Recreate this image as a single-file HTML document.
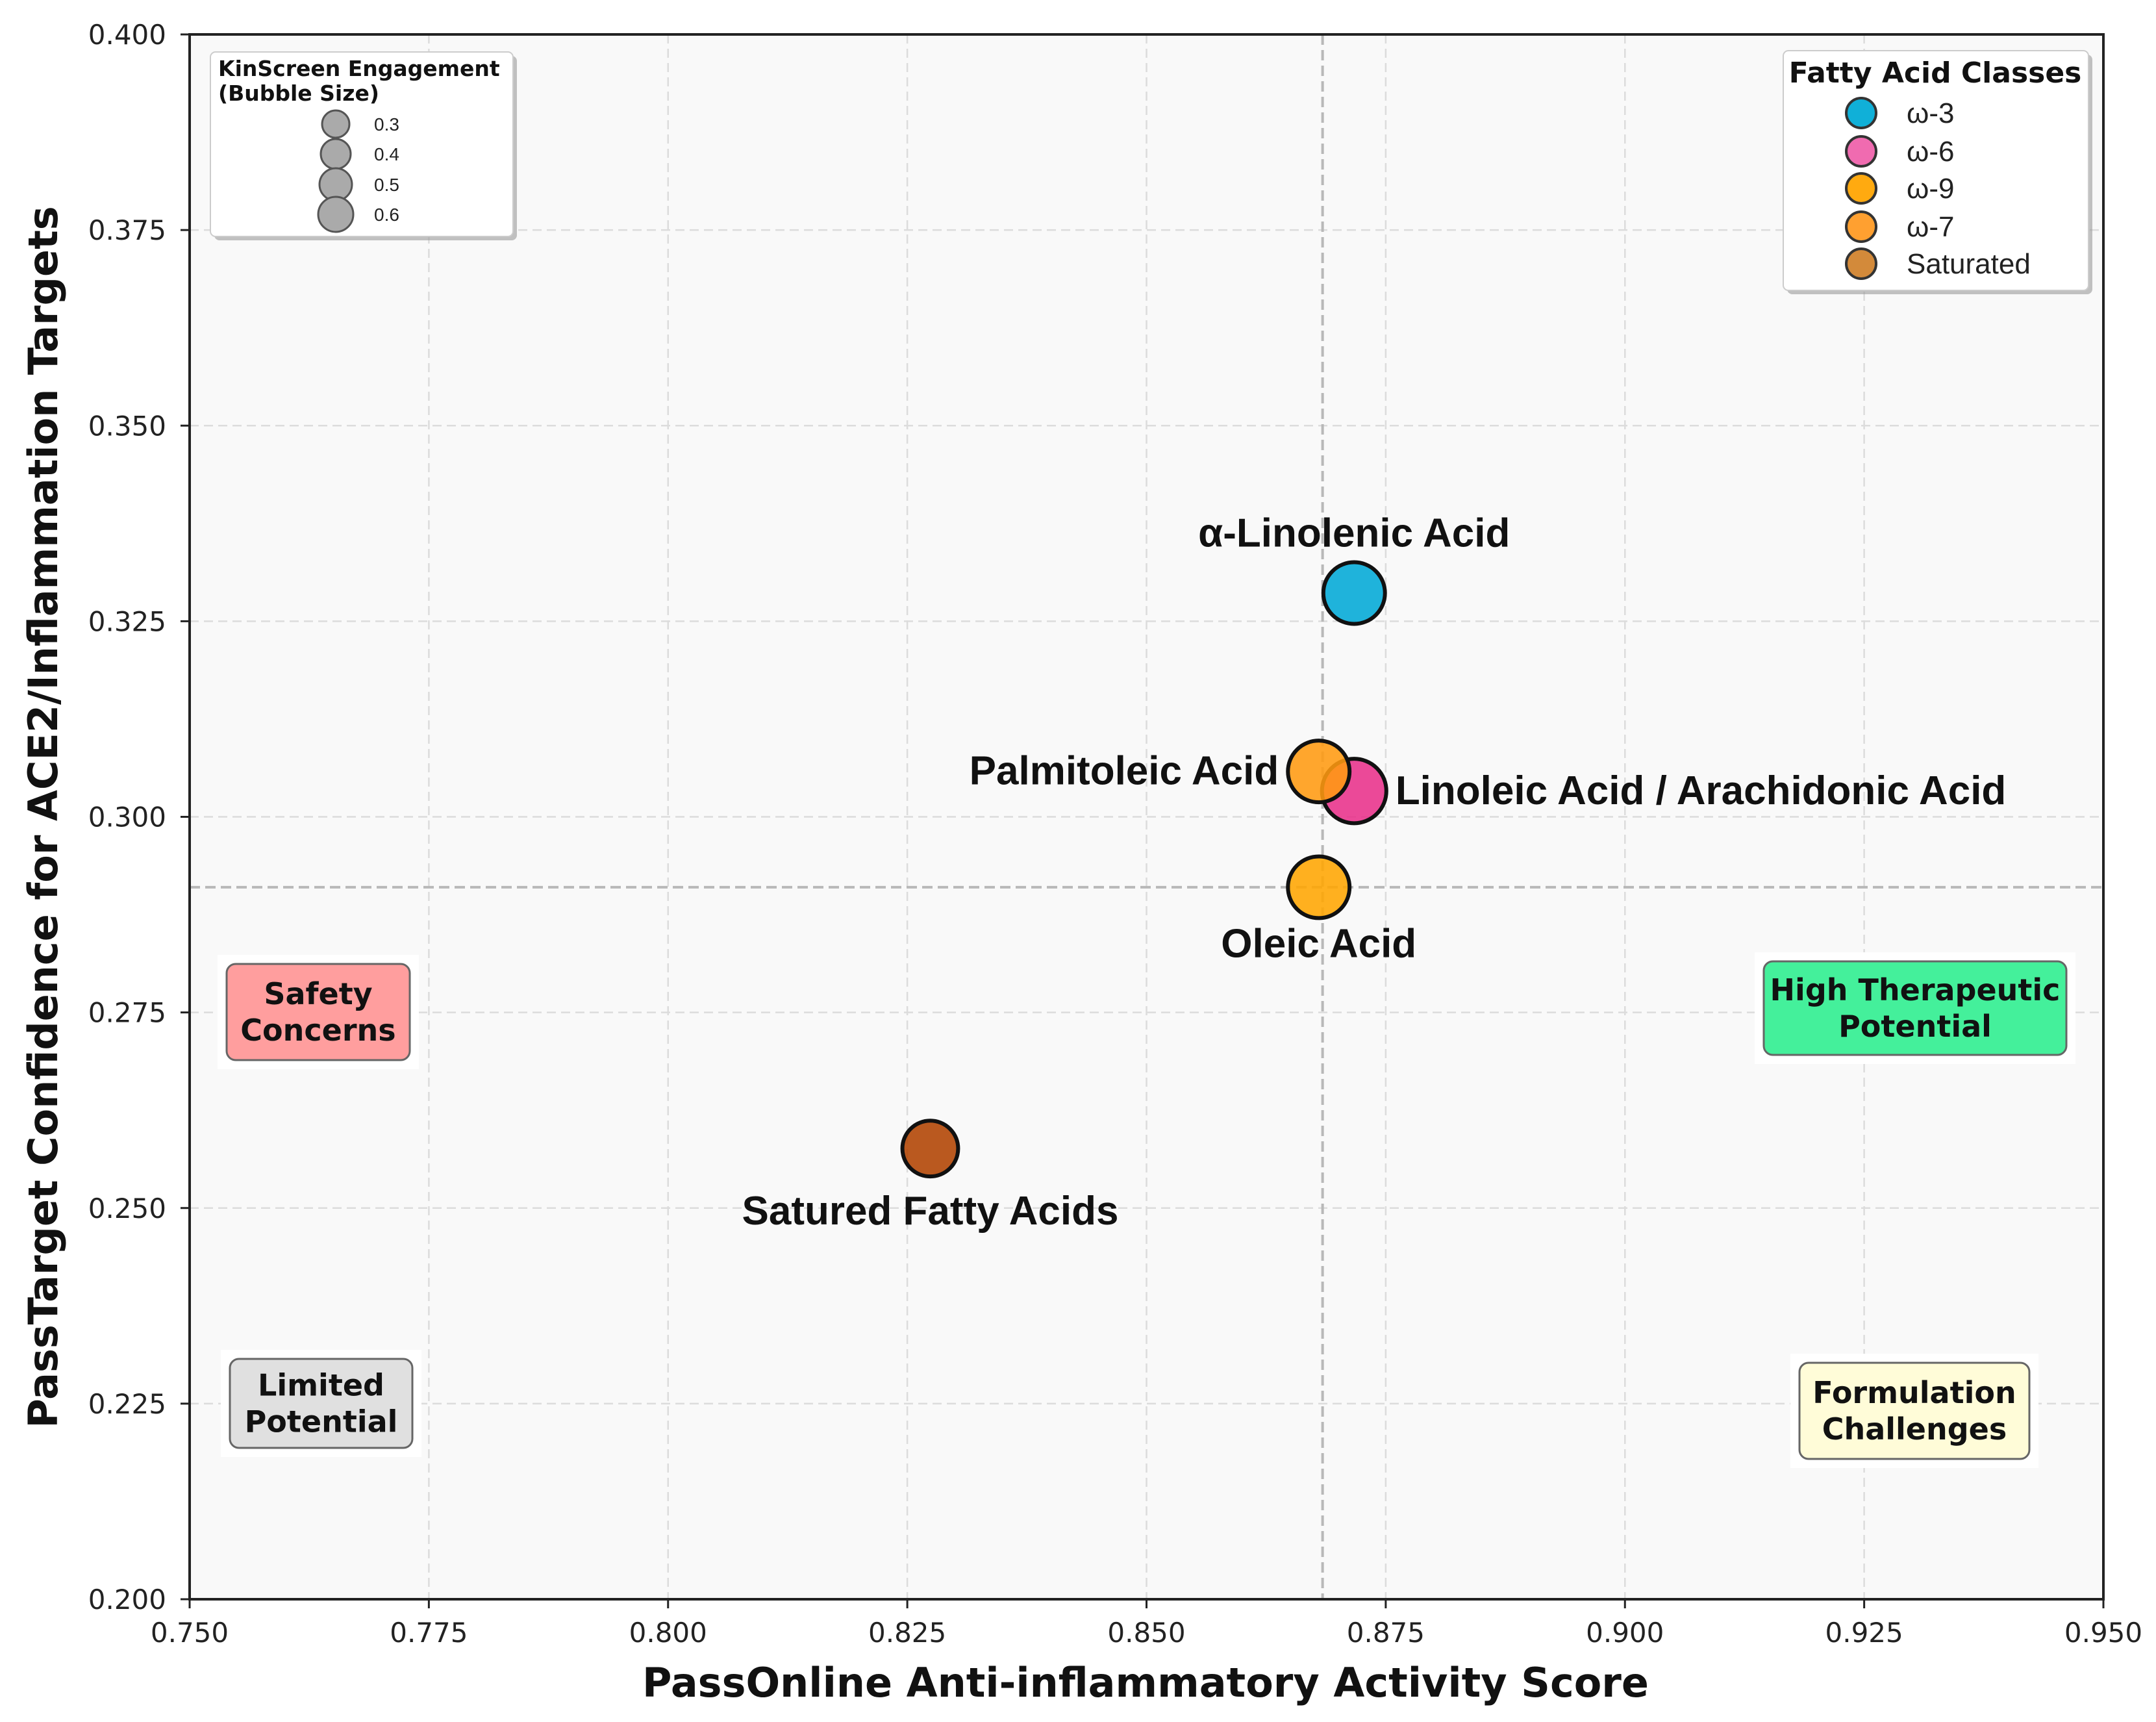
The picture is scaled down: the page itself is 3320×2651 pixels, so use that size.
<!DOCTYPE html>
<html><head><meta charset="utf-8"><style>
html,body{margin:0;padding:0;background:#fff}
svg{display:block}
text{font-family:"Liberation Sans","DejaVu Sans",sans-serif}
.dv{font-family:"DejaVu Sans","Liberation Sans",sans-serif}
</style></head><body>
<svg id="chart" width="3320" height="2651" viewBox="0 0 3320 2651" xmlns="http://www.w3.org/2000/svg">
<rect width="3320" height="2651" fill="#fff"/>
<rect x="292" y="53" width="2947" height="2409" fill="#f9f9f9"/>
<g id="grid"></g>
<g id="ref"></g>
<g id="quad"></g>
<g id="marks"></g>
<g id="labels"></g>
<rect x="292" y="53" width="2947" height="2409" fill="none" stroke="#222" stroke-width="4"/>
<g id="ticks"></g>
<text class="dv" x="1764" y="2612" text-anchor="middle" font-size="62" font-weight="bold" fill="#111">PassOnline Anti-inflammatory Activity Score</text>
<text class="dv" transform="translate(88,1258) rotate(-90)" text-anchor="middle" font-size="62" font-weight="bold" fill="#111">PassTarget Confidence for ACE2/Inflammation Targets</text>

<g>
<rect x="330" y="86" width="466" height="284" rx="8" fill="#999" opacity="0.6"/>
<rect x="324" y="80" width="466" height="284" rx="8" fill="#fff" stroke="#ccc" stroke-width="2"/>
<text class="dv" x="336" y="117" font-size="33" font-weight="bold" fill="#111">KinScreen Engagement</text>
<text class="dv" x="336" y="155" font-size="33" font-weight="bold" fill="#111">(Bubble Size)</text>
<g fill="#aaa" stroke="#555" stroke-width="3">
<circle cx="517" cy="191" r="21"/><circle cx="517" cy="237" r="23"/><circle cx="517" cy="284" r="25"/><circle cx="517" cy="330" r="27"/></g>
<g class="dv" font-size="28" fill="#222">
<text x="576" y="201">0.3</text><text x="576" y="247">0.4</text><text x="576" y="294">0.5</text><text x="576" y="340">0.6</text></g>
</g>

<g>
<rect x="2752" y="84" width="470" height="369" rx="8" fill="#999" opacity="0.6"/>
<rect x="2746" y="78" width="470" height="369" rx="8" fill="#fff" stroke="#ccc" stroke-width="2"/>
<text class="dv" x="2980" y="127" text-anchor="middle" font-size="44" font-weight="bold" fill="#111">Fatty Acid Classes</text>
<g stroke="#333" stroke-width="4">
<circle cx="2866" cy="174" r="23" fill="#10b0d8"/>
<circle cx="2866" cy="233" r="23" fill="#f06bb0"/>
<circle cx="2866" cy="290" r="23" fill="#ffaa10"/>
<circle cx="2866" cy="349" r="23" fill="#ffa030"/>
<circle cx="2866" cy="406" r="23" fill="#d38a3a"/></g>
<g class="dv" font-size="44" fill="#222">
<text x="2936" y="189">ω-3</text><text x="2936" y="248">ω-6</text><text x="2936" y="305">ω-9</text><text x="2936" y="364">ω-7</text><text x="2936" y="421">Saturated</text></g>
</g>
</svg>
<script>
const xTicks=[0.750,0.775,0.800,0.825,0.850,0.875,0.900,0.925,0.950];
const yTicks=[0.200,0.225,0.250,0.275,0.300,0.325,0.350,0.375,0.400];
const names=["Satured Fatty Acids","Linoleic Acid / Arachidonic Acid","α-Linolenic Acid","Oleic Acid","Palmitoleic Acid"];
const classes=["Saturated","ω-6","ω-3","ω-9","ω-7"];
const xVals=[0.8274,0.8717,0.8717,0.8680,0.8680];
const yVals=[0.2576,0.3033,0.3286,0.2910,0.3058];
const sizes=[0.45,0.60,0.55,0.55,0.55];
const refX=0.8684, refY=0.2910;
const colors={"ω-3":"#00a8d6","ω-6":"#e8308a","ω-9":"#ffa500","ω-7":"#ff9a10","Saturated":"#b04200"};
const NS="http://www.w3.org/2000/svg";
const L=292,R=3239,T=53,B=2462;
const xs=v=>L+(v-0.75)/0.2*(R-L);
const ys=v=>B-(v-0.2)/0.2*(B-T);
function mk(tag,parent,attrs){const e=document.createElementNS(NS,tag);for(const k in attrs)e.setAttribute(k,attrs[k]);document.getElementById(parent).appendChild(e);return e;}
xTicks.forEach(t=>{const x=xs(t);
 const g=mk('line','grid',{x1:x,x2:x,y1:T,y2:B,stroke:'#dcdcdc','stroke-width':2.5,'stroke-dasharray':'14 8'});
 
 
 const tk=mk('line','ticks',{x1:x,x2:x,y1:B,y2:B+14,stroke:'#222','stroke-width':3});
 
 
 const tl=mk('text','ticks',{x:x,y:2528,'text-anchor':'middle','font-size':42,fill:'#222',class:'dv'});
 tl.textContent=t.toFixed(3);
 
 });
yTicks.forEach(t=>{const y=ys(t);
 const g=mk('line','grid',{x1:L,x2:R,y1:y,y2:y,stroke:'#dcdcdc','stroke-width':2.5,'stroke-dasharray':'14 8'});
 
 
 const tk=mk('line','ticks',{x1:L-14,x2:L,y1:y,y2:y,stroke:'#222','stroke-width':3});
 
 
 const tl=mk('text','ticks',{x:256,y:y+15,'text-anchor':'end','font-size':42,fill:'#222',class:'dv'});
 tl.textContent=t.toFixed(3);
 
 });
const rv=mk('line','ref',{x1:xs(refX),x2:xs(refX),y1:T,y2:B,stroke:'#b8b8b8','stroke-width':4,'stroke-dasharray':'16 8'});


const rh=mk('line','ref',{x1:L,x2:R,y1:ys(refY),y2:ys(refY),stroke:'#b8b8b8','stroke-width':4,'stroke-dasharray':'16 8'});


const quads=[
 {n:'safety-concerns-box',x:349,y:1484,w:282,h:148,f:'#ff9e9e',t:['Safety','Concerns']},
 {n:'high-therapeutic-box',x:2716,y:1480,w:466,h:144,f:'#44f09b',t:['High Therapeutic','Potential']},
 {n:'limited-potential-box',x:354,y:2092,w:281,h:137,f:'#e0e0e0',t:['Limited','Potential']},
 {n:'formulation-box',x:2771,y:2098,w:354,h:148,f:'#fffcd8',t:['Formulation','Challenges']}];
quads.forEach(q=>{
 mk('rect','quad',{x:q.x-14,y:q.y-14,width:q.w+28,height:q.h+28,fill:'#fff'});
 const r=mk('rect','quad',{x:q.x,y:q.y,width:q.w,height:q.h,rx:14,fill:q.f,stroke:'#666','stroke-width':3});
 
 
 q.t.forEach((s,i)=>{const tx=mk('text','quad',{x:q.x+q.w/2,y:q.y+q.h/2+(i===0?-12:44),'text-anchor':'middle','font-size':46,'font-weight':'bold',fill:'#111',class:'dv'});
  tx.textContent=s;
  
  });});
const labelPos=[['middle',0,1],['start',1,0],['middle',0,-1],['middle',0,1],['end',-1,0]];
names.forEach((n,i)=>{const cx=xs(xVals[i]),cy=ys(yVals[i]),r=Math.sqrt(sizes[i])*64;
 const c=mk('circle','marks',{cx:cx,cy:cy,r:r,fill:colors[classes[i]],'fill-opacity':0.88,stroke:'#111','stroke-width':6});
 
 
 const p=labelPos[i];
 const lx=cx+p[1]*(r+14);
 const ly=p[2]<0?cy-r-24:(p[2]>0?cy+r+(i===0?74:60):cy+20);
 const t=mk('text','labels',{x:lx,y:ly,'text-anchor':p[0],'font-size':62,'font-weight':'bold',fill:'#111'});
 t.textContent=n;
 
 });
</script>
</body></html>
